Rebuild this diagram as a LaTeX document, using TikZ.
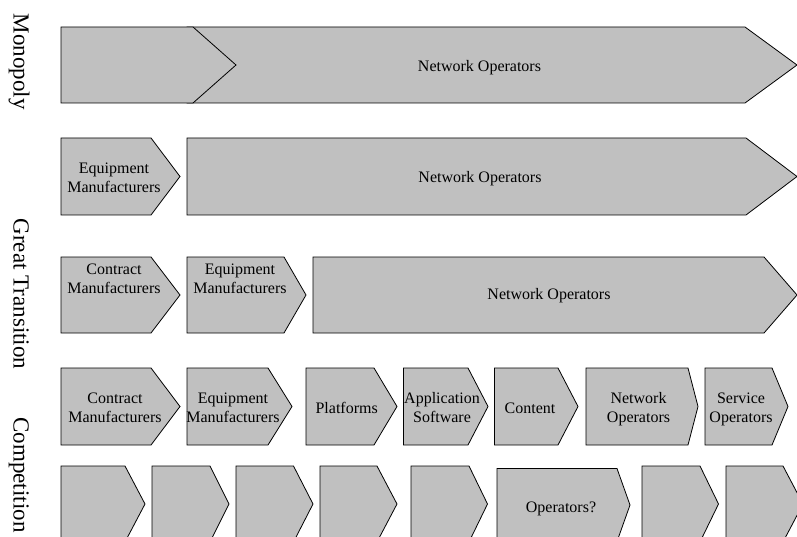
\documentclass[tikz,border=0pt]{standalone}
\usepackage{fontspec}
\setmainfont{Liberation Serif}
\definecolor{chevfill}{HTML}{C0C0C0}

% chevron: name-free polygon; #1 left x, #2 x where the point starts,
% #3 tip x, #4 top y, #5 bottom y
\newcommand\chevbox[5]{%
  \draw[chev] (#1,#4) -- (#2,#4) -- (#3,{(#4+#5)/2}) -- (#2,#5) -- (#1,#5) -- cycle;}

\begin{document}
\begin{tikzpicture}[x=1pt,y=-1pt,
  chev/.style={fill=chevfill,draw=black,line width=0.8pt,line join=miter},
  boxtext/.style={align=center,inner sep=0pt,font=\fontsize{16}{19}\selectfont},
  eralabel/.style={rotate=-90,anchor=base,inner sep=0pt,font=\fontsize{23}{27}\selectfont}]
\useasboundingbox (0,0) rectangle (797,537);
\clip (0,0) rectangle (797,537);

% era labels down the left side
\node[eralabel] (monopoly) at (13.5,61.7) {Monopoly};
\node[eralabel] (transition) at (13.5,294) {Great Transition};
\node[eralabel] (competition) at (13.5,475) {Competition};

% row 1
\chevbox{187}{745}{797}{27}{103}
\chevbox{61}{193}{236}{27}{103}
\node[boxtext] (r1net) at (479.5,68) {Network Operators};

% row 2
\chevbox{61}{151}{180}{138}{215}
\chevbox{187}{746}{797}{138}{215}
\node[boxtext] (r2eq) at (114,177.5) {Equipment\\Manufacturers};
\node[boxtext] (r2net) at (480,178.3) {Network Operators};

% row 3
\chevbox{61}{151}{180}{257}{333}
\chevbox{187}{284}{306}{257}{333}
\chevbox{313}{764}{797}{257}{333}
\node[boxtext] (r3con) at (114,279) {Contract\\Manufacturers};
\node[boxtext] (r3eq) at (240,279) {Equipment\\Manufacturers};
\node[boxtext] (r3net) at (549,296) {Network Operators};

% row 4
\chevbox{61}{151}{180}{368}{445}
\chevbox{187}{268}{292}{368}{445}
\chevbox{306}{374}{397}{368}{445}
\chevbox{403.5}{468}{488}{368}{445}
\chevbox{494.5}{558}{578}{368}{445}
\chevbox{586}{688}{698}{368}{445}
\chevbox{705}{772}{788}{368}{445}
\node[boxtext] (r4con) at (115,407.5) {Contract\\Manufacturers};
\node[boxtext] (r4eq) at (233,407.5) {Equipment\\Manufacturers};
\node[boxtext] (r4plat) at (346.7,408) {Platforms};
\node[boxtext] (r4app) at (442,407.5) {Application\\Software};
\node[boxtext] (r4cont) at (530,408) {Content};
\node[boxtext] (r4net) at (638.5,409) {Network\\Operators};
\node[boxtext] (r4serv) at (741,409) {Service\\Operators};

% row 5
\chevbox{61}{125}{145}{466}{542}
\chevbox{152}{210}{229}{466}{542}
\chevbox{236}{293.5}{313}{466}{542}
\chevbox{320}{377}{397}{466}{542}
\chevbox{411}{469}{487.5}{466}{542}
\chevbox{497}{617}{630}{468.5}{541.5}
\chevbox{642}{700}{718.5}{466}{542}
\chevbox{726}{783}{803}{466}{542}
\node[boxtext] (r5op) at (561,509) {Operators?};
\end{tikzpicture}
\end{document}
